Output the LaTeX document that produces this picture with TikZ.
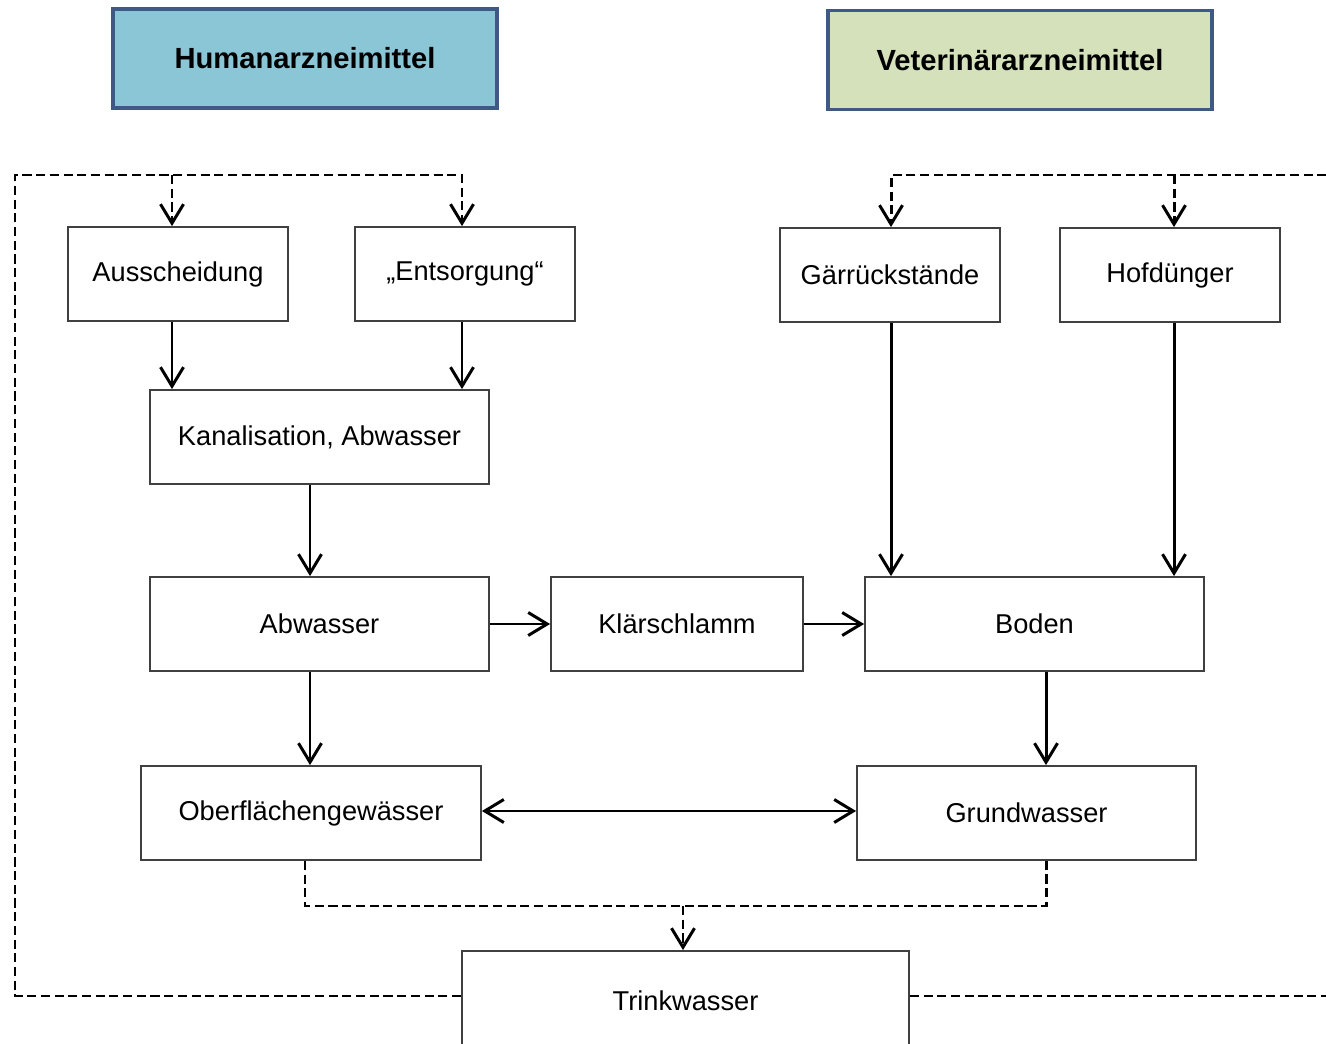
\documentclass[tikz,border=0pt]{standalone}
\usepackage{fontspec}
\setmainfont{Liberation Sans}
\usepackage{xcolor}
\usetikzlibrary{arrows.meta}

\definecolor{headblue}{HTML}{8AC6D6}
\definecolor{headgreen}{HTML}{D4E1BA}
\definecolor{headline}{HTML}{3E5A84}
\definecolor{boxline}{HTML}{404040}

\tikzset{
  head/.style={draw=headline, line width=1.9pt, minimum width=384*0.02cm,
    minimum height=99*0.02cm, font=\fontsize{16.6}{19}\selectfont\bfseries},
  box/.style={draw=boxline, line width=1.05pt, fill=white, minimum width=220*0.02cm,
    minimum height=94*0.02cm, font=\fontsize{15.5}{18}\selectfont},
  widebox/.style={box, minimum width=339*0.02cm},
  tip/.tip={Straight Barb[length=0.38cm,width=0.46cm,line width=1.7pt]},
  arr/.style={line width=1.7pt, -tip},
  dashline/.style={line width=1.7pt, dash pattern=on 5.2pt off 2.6pt}
}

\begin{document}
\begin{tikzpicture}[x=0.02cm, y=-0.02cm]
    \useasboundingbox (0,0) rectangle (1326,1044);

    % Headers
    \node[head, fill=headblue] (human) at (305,58.5) {Humanarzneimittel};
    \node[head, fill=headgreen] (vet) at (1020,60) {Veterinärarzneimittel};

    % Boxes
    \node[box] (aus) at (178,274) {Ausscheidung};
    \node[box] (ent) at (465,274) {„Entsorgung“};
    \node[box] (gaer) at (890,275) {Gärrückstände};
    \node[box] (hof) at (1170,275) {Hofdünger};
    \node[widebox] (kan) at (319.5,437) {Kanalisation, Abwasser};
    \node[widebox] (abw) at (319.5,624) {Abwasser};
    \node[box, minimum width=252*0.02cm] (klae) at (677,624) {Klärschlamm};
    \node[widebox] (boden) at (1034.5,624) {Boden};
    \node[widebox, minimum width=340*0.02cm] (ober) at (311,813) {Oberflächengewässer};
    \node[widebox] (grund) at (1026.5,813) {Grundwasser};
    \node[box, minimum width=447*0.02cm, minimum height=100*0.02cm] (trink) at (685.5,1001) {Trinkwasser};

    % Guide coordinates
    \coordinate (xa) at (172,0);
    \coordinate (xe) at (462,0);
    \coordinate (xk) at (310,0);
    \coordinate (xg) at (891,0);
    \coordinate (xh) at (1174,0);
    \coordinate (xb) at (1046,0);
    \coordinate (xo) at (305,0);
    \coordinate (yd) at (0,996);
    \coordinate (lt) at (15,175);
    \coordinate (rt) at (1345,175);
    \coordinate (bm) at (683,906);

    % Solid arrows
    \draw[arr] (aus.south -| xa) -- (kan.north -| xa);
    \draw[arr] (ent.south -| xe) -- (kan.north -| xe);
    \draw[arr] (kan.south -| xk) -- (abw.north -| xk);
    \draw[arr] (abw.south -| xk) -- (ober.north -| xk);
    \draw[arr] (abw.east) -- (klae.west);
    \draw[arr] (klae.east) -- (boden.west);
    \draw[arr] (gaer.south -| xg) -- (boden.north -| xg);
    \draw[arr] (hof.south -| xh) -- (boden.north -| xh);
    \draw[arr] (boden.south -| xb) -- (grund.north -| xb);
    \draw[arr, tip-tip] (ober.east |- 0,811) -- (grund.west |- 0,811);

    % Dashed loops
    \draw[dashline, arr] (trink.west |- yd) -| (lt) -- (lt -| xe) -- (ent.north -| xe);
    \draw[dashline, arr] (lt -| xa) -- (aus.north -| xa);
    \draw[dashline, arr] (trink.east |- yd) -| (rt) -- (rt -| xg) -- (gaer.north -| xg);
    \draw[dashline, arr] (rt -| xh) -- (hof.north -| xh);
    \draw[dashline] (ober.south -| xo) |- (bm) -| (grund.south -| xb);
    \draw[dashline, arr] (bm) -- (trink.north -| bm);
\end{tikzpicture}
\end{document}
